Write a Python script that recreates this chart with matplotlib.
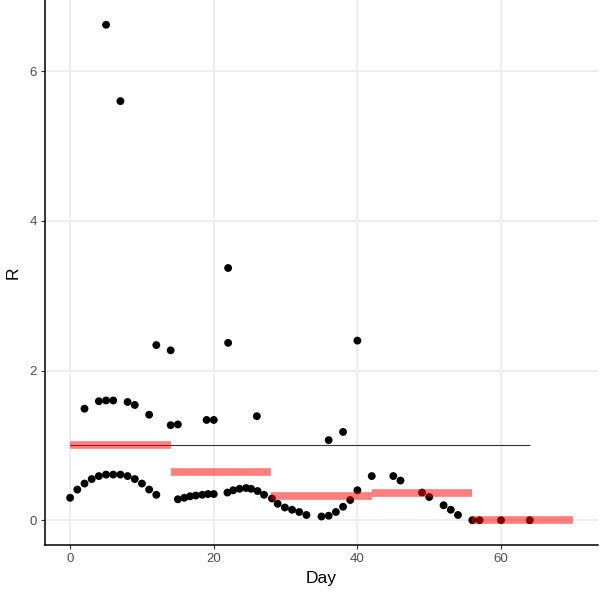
import matplotlib
matplotlib.use("Agg")
import matplotlib.pyplot as plt

plt.rcParams['font.family'] = ['Liberation Sans', 'DejaVu Sans']

# Lower curve points
low_day = [0, 1, 2, 3, 4, 5, 6, 7, 8, 9, 10, 11, 12,
           15, 15.9, 16.7, 17.5, 18.4, 19.2, 20.0,
           21.9, 22.7, 23.6, 24.5, 25.2, 26.1, 27.0, 28.1, 28.9, 29.9, 30.9, 31.9, 32.9,
           35, 36, 37, 38, 39, 40, 42, 45, 46, 49, 50, 52, 53, 54, 56, 57, 60, 64]
low_R = [0.30, 0.41, 0.49, 0.55, 0.59, 0.61, 0.61, 0.61, 0.59, 0.55, 0.49, 0.41, 0.34,
         0.28, 0.30, 0.32, 0.33, 0.34, 0.35, 0.35,
         0.37, 0.40, 0.42, 0.43, 0.42, 0.39, 0.34, 0.29, 0.22, 0.17, 0.14, 0.11, 0.07,
         0.05, 0.06, 0.11, 0.18, 0.27, 0.40, 0.59, 0.59, 0.53, 0.37, 0.31, 0.20, 0.14, 0.07,
         0.0, 0.0, 0.0, 0.0]

# Upper band points
up_day = [2, 4, 5, 6, 8, 9, 11, 14, 15, 19, 20, 26, 36, 38]
up_R = [1.49, 1.59, 1.60, 1.60, 1.58, 1.54, 1.41, 1.27, 1.28, 1.34, 1.34, 1.39, 1.07, 1.18]

# Outlier points
out_day = [5, 7, 12, 14, 22, 22, 40]
out_R = [6.62, 5.60, 2.34, 2.27, 3.37, 2.37, 2.40]

# Piecewise segments (start, end, value)
seg_start = [0, 14, 28, 42, 56]
seg_end = [14, 28, 42, 56, 70]
seg_R = [1.0, 0.64, 0.32, 0.36, 0.0]

# Reference line
ref_start, ref_end, ref_R = 0, 64, 1.0

fig = plt.figure(figsize=(6.0, 5.98), dpi=100)
ax = fig.add_axes([45/600, 53/598, 553/600, 545/598])

for v in [0, 20, 40, 60]:
    ax.axvline(v, color='#EBEBEB', lw=1.2, zorder=0)
for v in [0, 2, 4, 6]:
    ax.axhline(v, color='#EBEBEB', lw=1.2, zorder=0)

ax.scatter(low_day + up_day + out_day, low_R + up_R + out_R, s=32, color='black',
           edgecolors='none', zorder=2)
ax.hlines([ref_R], ref_start, ref_end, color='#333333', lw=0.8, zorder=3)
ax.hlines(seg_R, seg_start, seg_end, color=(1, 0, 0, 0.5), lw=5.5, zorder=4,
          capstyle='butt')

ax.set_xlim(-3.5, 73.5)
ax.set_ylim(-0.331, 6.951)
ax.set_xticks([0, 20, 40, 60])
ax.set_yticks([0, 2, 4, 6])
for s in ['top', 'right']:
    ax.spines[s].set_visible(False)
for s in ['left', 'bottom']:
    ax.spines[s].set_linewidth(1.1)
    ax.spines[s].set_color('black')
ax.tick_params(axis='both', length=3, width=0.8, color='#333333',
               labelsize=9.5, labelcolor='#4D4D4D', pad=3)
ax.set_xlabel('Day', fontsize=12.5, labelpad=4)
ax.set_ylabel('R', fontsize=12.5, labelpad=6)

fig.savefig('out.png', dpi=100)
